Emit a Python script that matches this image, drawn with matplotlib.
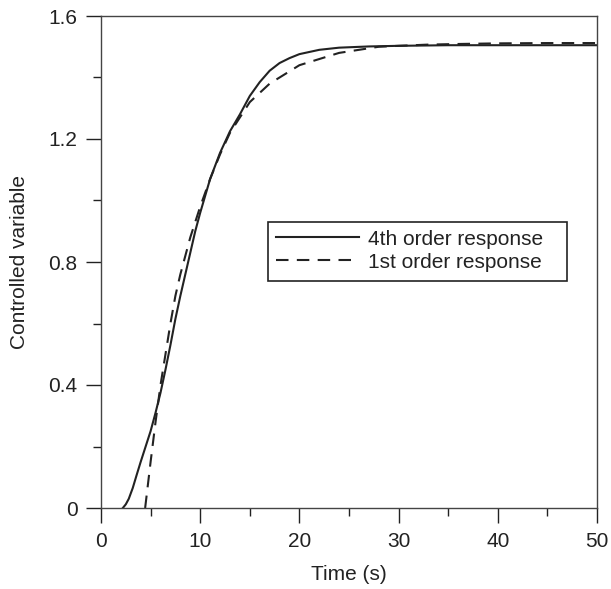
import matplotlib
matplotlib.use("Agg")
import matplotlib.pyplot as plt
from matplotlib.ticker import MultipleLocator
from matplotlib.patches import Rectangle

plt.rcParams['font.family'] = ['Liberation Sans', 'DejaVu Sans']

# 4th order response
t4 = [2.2, 2.5, 2.8, 3.2, 3.6, 4.0, 4.5, 5.0, 5.5, 6.0, 6.5, 7.0, 7.5, 8.0, 8.5,
      9.0, 9.5, 10.0, 11.0, 12.0, 13.0, 14.0, 15.0, 16.0, 17.0, 18.0, 19.0, 20.0,
      22.0, 24.0, 27.0, 30.0, 35.0, 40.0, 50.0]
y4 = [0.0, 0.012, 0.03, 0.065, 0.108, 0.15, 0.20, 0.25, 0.31, 0.375, 0.45, 0.53,
      0.615, 0.69, 0.76, 0.83, 0.90, 0.96, 1.07, 1.155, 1.225, 1.28, 1.34, 1.385,
      1.422, 1.447, 1.463, 1.476, 1.490, 1.497, 1.501, 1.503, 1.505, 1.505, 1.505]

# 1st order response
t1 = [4.45, 5.0, 5.5, 6.0, 6.5, 7.0, 7.5, 8.0, 8.5, 9.0, 9.5, 10.0, 11.0, 12.0,
      13.0, 14.0, 15.0, 16.0, 17.0, 18.0, 19.0, 20.0, 22.0, 24.0, 26.0, 28.0,
      30.0, 33.0, 36.0, 40.0, 45.0, 50.0]
y1 = [0.0, 0.15, 0.28, 0.40, 0.50, 0.60, 0.69, 0.76, 0.82, 0.88, 0.93, 0.98,
      1.07, 1.15, 1.22, 1.27, 1.32, 1.35, 1.38, 1.40, 1.42, 1.44, 1.46, 1.48,
      1.49, 1.50, 1.503, 1.507, 1.509, 1.511, 1.512, 1.512]

series_labels = ["4th order response", "1st order response"]
x_ticks = [0, 10, 20, 30, 40, 50]
y_ticks = [0, 0.4, 0.8, 1.2, 1.6]
y_tick_labels = ["0", "0.4", "0.8", "1.2", "1.6"]

fig = plt.figure(figsize=(6.11, 5.89), dpi=100)
ax = fig.add_axes([101/611, 1-508/589, 496/611, 492/589])

ink = '#222222'
fs = 15
ax.plot(t4, y4, color=ink, lw=1.5, label=series_labels[0])
ax.plot(t1, y1, color=ink, lw=1.5, ls=(0, (6, 4)), label=series_labels[1])

ax.set_xlim(0, 50)
ax.set_ylim(0, 1.6)
ax.set_xticks(x_ticks)
ax.set_yticks(y_ticks)
ax.set_yticklabels(y_tick_labels)
ax.xaxis.set_minor_locator(MultipleLocator(5))
ax.yaxis.set_minor_locator(MultipleLocator(0.2))
ax.tick_params(which='major', direction='out', length=11, width=1, colors=ink,
               labelsize=fs, pad=6)
ax.tick_params(which='minor', direction='out', length=5.5, width=1, colors=ink)
for s in ax.spines.values():
    s.set_color('#444444')
    s.set_linewidth(1.0)

ax.set_xlabel("Time (s)", fontsize=fs, color=ink, labelpad=10)
ax.set_ylabel("Controlled variable", fontsize=fs, color=ink, labelpad=14)

# legend frame box
ax.add_patch(Rectangle((0.3367, 0.4614), 0.9395 - 0.3367, 0.5813 - 0.4614,
                       transform=ax.transAxes, fill=True, facecolor='white',
                       edgecolor=ink, lw=1.2, zorder=4))
leg = ax.legend(loc='upper left', bbox_to_anchor=(0.3528, 0.566), borderaxespad=0,
                fontsize=fs, frameon=False, handlelength=4.0, handletextpad=0.4,
                borderpad=0, labelspacing=0.2)
leg.set_zorder(5)
for txt in leg.get_texts():
    txt.set_color(ink)

fig.savefig("out.png", dpi=100)
